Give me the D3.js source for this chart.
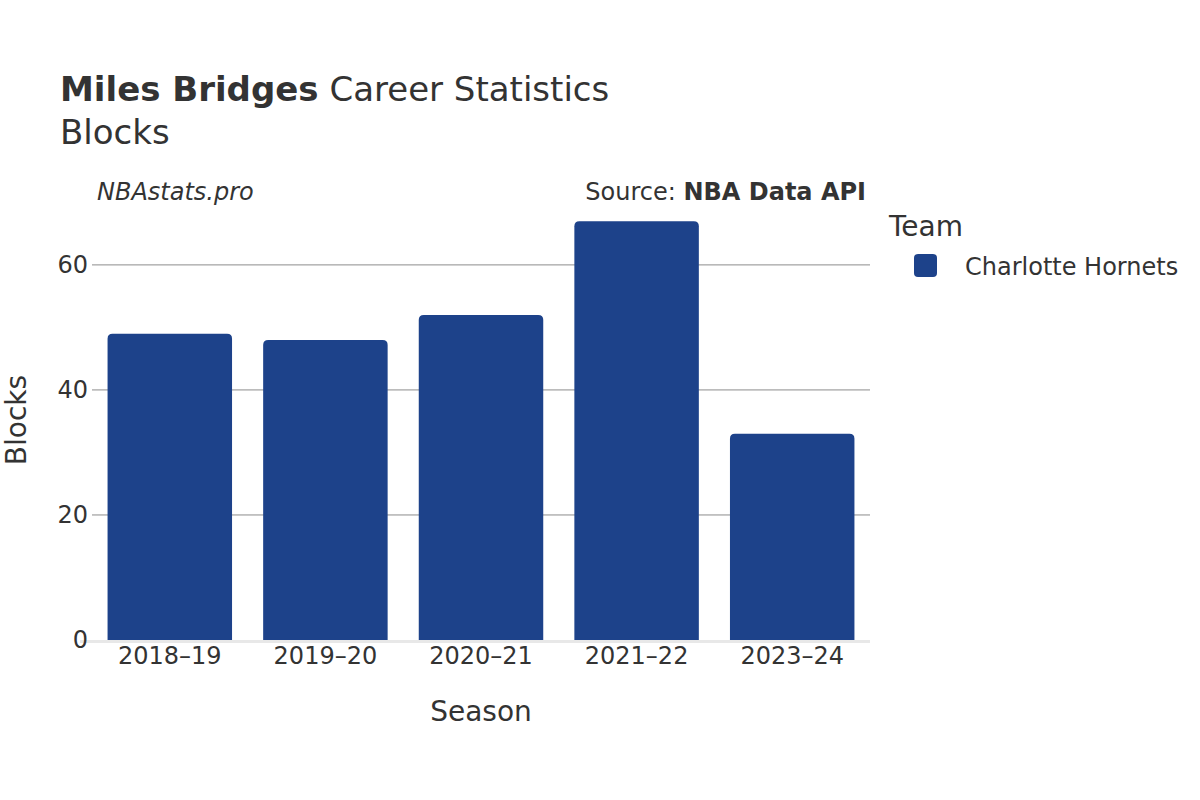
<!DOCTYPE html>
<html><head><meta charset="utf-8">
<script src="https://cdn.jsdelivr.net/npm/d3@7"></script>
<style>body{margin:0;background:#fff;} text{font-family:"DejaVu Sans",sans-serif;fill:#333;}</style>
</head><body>
<svg id="chart" width="1200" height="800"></svg>
<script>
const seasons = ["2018–19","2019–20","2020–21","2021–22","2023–24"];
const blocks = [49, 48, 52, 67, 33];
const yTicks = [0, 20, 40, 60];
const team = "Charlotte Hornets";
const teamColor = "#1d428a";

const svg = d3.select("#chart");
const L = 92, R = 870, T = 203, B = 640;
const x = d3.scaleBand().domain(seasons).range([L, R]).paddingInner(0.2).paddingOuter(0.1);
const y = d3.scaleLinear().domain([0, 69.9]).range([B, T]);

// gridlines
svg.append("g").selectAll("line").data(yTicks.filter(d => d > 0)).join("line")
  .attr("x1", L).attr("x2", R).attr("y1", d => y(d)).attr("y2", d => y(d))
  .attr("stroke", "#8c8c8c").attr("stroke-width", 1);

// bars with rounded top
const r = 5;
svg.append("g").selectAll("path").data(seasons).join("path")
  .attr("d", (s, i) => {
    const x0 = x(s), w = x.bandwidth(), y0 = y(blocks[i]), yb = y(0);
    return `M${x0},${yb}V${y0 + r}Q${x0},${y0} ${x0 + r},${y0}H${x0 + w - r}Q${x0 + w},${y0} ${x0 + w},${y0 + r}V${yb}Z`;
  })
  .attr("fill", teamColor);

// zero line
svg.append("line").attr("x1", L - 12).attr("x2", R).attr("y1", y(0) + 1.5).attr("y2", y(0) + 1.5)
  .attr("stroke", "#e8e8e8").attr("stroke-width", 3);

// y axis
const yAx = svg.append("g").attr("transform", `translate(${L},0)`)
  .call(d3.axisLeft(y).tickValues(yTicks).tickSize(0).tickPadding(4).tickFormat(d3.format("d")));
yAx.select(".domain").remove();
yAx.selectAll("text").style("font-size", "24px").attr("fill", "#333");

// x axis
const xAx = svg.append("g").attr("transform", `translate(0,${B})`)
  .call(d3.axisBottom(x).tickSize(0).tickPadding(7));
xAx.select(".domain").remove();
xAx.selectAll("text").style("font-size", "24px").attr("fill", "#333");

// titles
const title = svg.append("text").attr("x", 60).attr("y", 101).style("font-size", "34px");
title.append("tspan").attr("font-weight", "bold").text("Miles Bridges");
title.append("tspan").text(" Career Statistics");
svg.append("text").attr("x", 60).attr("y", 144).style("font-size", "34px").text("Blocks");

svg.append("text").attr("x", 97).attr("y", 200).style("font-size", "24px").attr("font-style", "italic").text("NBAstats.pro");
const src = svg.append("text").attr("x", 866).attr("y", 200).attr("text-anchor", "end").style("font-size", "24px");
src.append("tspan").text("Source: ");
src.append("tspan").attr("font-weight", "bold").text("NBA Data API");

svg.append("text").attr("x", 481).attr("y", 721).attr("text-anchor", "middle").style("font-size", "28px").text("Season");
svg.append("text").attr("transform", "translate(26,420) rotate(-90)").attr("text-anchor", "middle").style("font-size", "28px").text("Blocks");

// legend
svg.append("text").attr("x", 889).attr("y", 236).style("font-size", "28px").text("Team");
const lg = svg.append("g").selectAll("g").data([team]).join("g");
lg.append("rect").attr("x", 914).attr("y", 254).attr("width", 23).attr("height", 23).attr("rx", 4).attr("fill", teamColor);
lg.append("text").attr("x", 965).attr("y", 275).style("font-size", "24px").text(d => d);
</script>
</body></html>
